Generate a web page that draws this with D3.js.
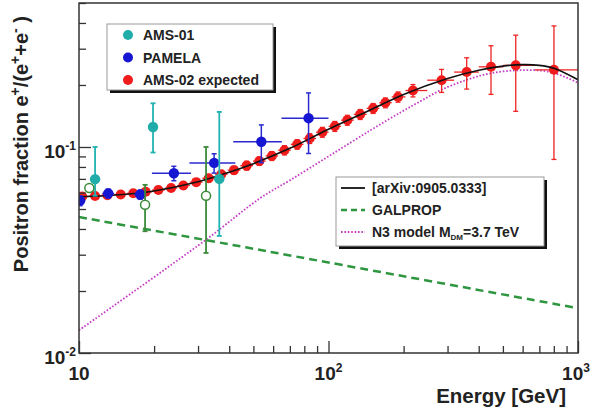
<!DOCTYPE html>
<html>
<head>
<meta charset="utf-8">
<script src="https://cdn.jsdelivr.net/npm/d3@7"></script>
<style>
  body { margin: 0; background: #fff; }
  svg { display: block; font-family: "Liberation Sans", Arial, sans-serif; }
</style>
</head>
<body>
<div class="chart"></div>
<script>
// AMS-02 expected (red)
let amsE = [10.3, 11.6, 13.0, 14.7, 16.5, 18.5, 20.8, 23.4, 26.2, 29.5, 33.1, 37.2, 41.8, 47.0, 52.8, 59.3,
            66.6, 74.9, 84.1, 94.5, 106, 119, 134, 151, 169, 190, 218, 284, 358, 448, 563, 801];
let amsV = [0.0575, 0.0578, 0.0583, 0.0588, 0.0596, 0.0606, 0.0618, 0.0632, 0.0650, 0.0675, 0.0705, 0.0738,
            0.0772, 0.0812, 0.0854, 0.0905, 0.0965, 0.103, 0.110, 0.118, 0.126, 0.135, 0.144, 0.154, 0.164,
            0.175, 0.188, 0.211, 0.231, 0.245, 0.249, 0.237];
let amsErr = [0.002, 0.002, 0.002, 0.002, 0.002, 0.002, 0.002, 0.002, 0.0025, 0.0025, 0.003, 0.003, 0.0035,
              0.004, 0.004, 0.0045, 0.005, 0.0055, 0.006, 0.0065, 0.007, 0.0075, 0.008, 0.0085, 0.009, 0.01,
              0.013, 0.027, 0.04, 0.065, 0.1, 0.15];

// PAMELA (blue)
let pamE = [10.1, 13.1, 17.6, 24.0, 34.8, 53.8, 83.2];
let pamV = [0.0549, 0.0595, 0.0588, 0.0746, 0.0837, 0.106, 0.138];
let pamErr = [0.003, 0.003, 0.003, 0.006, 0.009, 0.022, 0.045];
let pamLo = [9.6, 12.4, 16.6, 19.6, 27.7, 41.5, 64.8];
let pamHi = [10.6, 13.8, 18.6, 28.1, 42.3, 65.0, 100];

// AMS-01 (cyan)
let ams01E = [11.6, 19.8, 36.5];
let ams01V = [0.0698, 0.125, 0.070];
let ams01Hi = [0.100, 0.163, 0.148];
let ams01Lo = [0.058, 0.094, 0.037];

// open green circles
let openE = [11.0, 18.4, 32.3];
let openV = [0.0632, 0.0524, 0.058];
let openHi = [0.0632, 0.0655, 0.100];
let openLo = [0.0632, 0.039, 0.0306];

// curves
let arxivE = [10, 15, 20, 30, 40, 50, 70, 100, 150, 200, 300, 400, 500, 600, 700, 800, 1000];
let arxivV = [0.0573, 0.0588, 0.0612, 0.0678, 0.0755, 0.083, 0.0985, 0.122, 0.153, 0.180, 0.215, 0.236,
              0.247, 0.251, 0.249, 0.241, 0.212];
let galE = [10, 32, 100, 1000];
let galV = [0.0457, 0.0354, 0.0275, 0.0165];
let n3E = [10, 32.1, 53.3, 70.3, 102, 148, 195, 234, 282, 355, 447, 590, 779, 1000];
let n3V = [0.0129, 0.0353, 0.0565, 0.0691, 0.0914, 0.121, 0.1475, 0.167, 0.189, 0.211, 0.228, 0.236,
           0.231, 0.205];

let xMajor = [10, 100, 1000];
let xMinor = [20, 30, 40, 50, 60, 70, 80, 90, 200, 300, 400, 500, 600, 700, 800, 900];
let yMajor = [0.01, 0.1];
let yMinor = [0.02, 0.03, 0.04, 0.05, 0.06, 0.07, 0.08, 0.09, 0.2, 0.3, 0.4, 0.5];

let svgWidth = 592;
let svgHeight = 409;
let pLeft = 79, pRight = 578, pTop = 3, pBottom = 353;

let svg = d3.select(".chart")
    .append("svg")
    .attr("width", svgWidth)
    .attr("height", svgHeight);

let x = d3.scaleLog().domain([10, 1000]).range([pLeft, pRight]);
let y = d3.scaleLog().domain([0.01, 0.5]).range([pBottom, pTop]);

svg.append("clipPath").attr("id", "clip")
  .append("rect")
    .attr("x", pLeft).attr("y", pTop)
    .attr("width", pRight - pLeft).attr("height", pBottom - pTop);

let plot = svg.append("g").attr("clip-path", "url(#clip)");

let line = d3.line()
    .x(d => x(d[0]))
    .y(d => y(d[1]))
    .curve(d3.curveCatmullRom);

// GALPROP
plot.append("path")
    .attr("d", line(d3.zip(galE, galV)))
    .attr("fill", "none")
    .attr("stroke", "#2f9640")
    .attr("stroke-width", 2.5)
    .attr("stroke-dasharray", "8,5");

// N3 model
plot.append("path")
    .attr("d", line(d3.zip(n3E, n3V)))
    .attr("fill", "none")
    .attr("stroke", "#c43cc4")
    .attr("stroke-width", 1.8)
    .attr("stroke-dasharray", "1.6,1.8");

function errorBars(g, color, xs, ys, yLo, yHi, xLo, xHi, width) {
    let grp = g.append("g").attr("stroke", color).attr("stroke-width", width);
    xs.forEach((e, i) => {
        let cx = x(e);
        grp.append("line")
            .attr("x1", cx).attr("x2", cx)
            .attr("y1", y(yLo[i])).attr("y2", y(yHi[i]));
        grp.append("line")
            .attr("x1", cx - 2.5).attr("x2", cx + 2.5)
            .attr("y1", y(yLo[i])).attr("y2", y(yLo[i]));
        grp.append("line")
            .attr("x1", cx - 2.5).attr("x2", cx + 2.5)
            .attr("y1", y(yHi[i])).attr("y2", y(yHi[i]));
        if (xLo) {
            grp.append("line")
                .attr("x1", x(xLo[i])).attr("x2", x(xHi[i]))
                .attr("y1", y(ys[i])).attr("y2", y(ys[i]));
        }
    });
}

// AMS-02 expected: bins between neighbouring points
let amsLo = amsE.map((e, i) => i === 0 ? 10 : Math.sqrt(e * amsE[i - 1]));
let amsHi = amsE.map((e, i) => i === amsE.length - 1 ? 1000 : Math.sqrt(e * amsE[i + 1]));

errorBars(plot, "#ee2222", amsE, amsV,
    amsV.map((v, i) => v - amsErr[i]), amsV.map((v, i) => v + amsErr[i]), amsLo, amsHi, 1.3);

plot.append("g").selectAll("circle")
    .data(d3.zip(amsE, amsV))
    .enter()
    .append("circle")
    .attr("cx", d => x(d[0]))
    .attr("cy", d => y(d[1]))
    .attr("r", 5)
    .attr("fill", "#f01c1c");

// arXiv:0905.0333 curve
plot.append("path")
    .attr("d", line(d3.zip(arxivE, arxivV)))
    .attr("fill", "none")
    .attr("stroke", "#111")
    .attr("stroke-width", 1.6);

// PAMELA
errorBars(plot, "#2a2ad0", pamE, pamV,
    pamV.map((v, i) => v - pamErr[i]), pamV.map((v, i) => v + pamErr[i]), pamLo, pamHi, 1.5);
plot.append("g").selectAll("circle")
    .data(d3.zip(pamE, pamV))
    .enter()
    .append("circle")
    .attr("cx", d => x(d[0]))
    .attr("cy", d => y(d[1]))
    .attr("r", 5.2)
    .attr("fill", "#1616d2");

// AMS-01
errorBars(plot, "#22b2b2", ams01E, ams01V, ams01Lo, ams01Hi, null, null, 1.8);
plot.append("g").selectAll("circle")
    .data(d3.zip(ams01E, ams01V))
    .enter()
    .append("circle")
    .attr("cx", d => x(d[0]))
    .attr("cy", d => y(d[1]))
    .attr("r", 5.2)
    .attr("fill", "#20adaa");

// open green circles
errorBars(plot, "#3a8a3a", openE, openV, openLo, openHi, null, null, 1.8);
plot.append("g").selectAll("circle")
    .data(d3.zip(openE, openV))
    .enter()
    .append("circle")
    .attr("cx", d => x(d[0]))
    .attr("cy", d => y(d[1]))
    .attr("r", 4.5)
    .attr("fill", "#fff")
    .attr("stroke", "#3a8a3a")
    .attr("stroke-width", 1.5);

// frame
svg.append("rect")
    .attr("x", pLeft).attr("y", pTop)
    .attr("width", pRight - pLeft).attr("height", pBottom - pTop)
    .attr("fill", "none")
    .attr("stroke", "#333")
    .attr("stroke-width", 1.5);

// axes with inward ticks
function drawAxis(axis, transform) {
    svg.append("g")
        .attr("transform", transform)
        .call(axis)
        .call(g => g.select(".domain").remove())
        .call(g => g.selectAll("line").attr("stroke", "#333").attr("stroke-width", 1.3));
}
drawAxis(d3.axisBottom(x).tickValues(xMajor).tickSize(-12).tickFormat(""), `translate(0,${pBottom})`);
drawAxis(d3.axisBottom(x).tickValues(xMinor).tickSize(-7).tickFormat(""), `translate(0,${pBottom})`);
drawAxis(d3.axisLeft(y).tickValues(yMajor).tickSize(-12).tickFormat(""), `translate(${pLeft},0)`);
drawAxis(d3.axisLeft(y).tickValues(yMinor).tickSize(-7).tickFormat(""), `translate(${pLeft},0)`);

function powerLabel(px, py, exp, anchor) {
    let t = svg.append("text")
        .attr("x", px).attr("y", py)
        .attr("text-anchor", anchor)
        .attr("font-size", 19)
        .attr("font-weight", "bold")
        .attr("fill", "#222");
    t.append("tspan").text("10");
    if (exp !== "") {
        t.append("tspan").attr("font-size", 12).attr("dy", -8).text(exp);
    }
}
powerLabel(x(10), 380, "", "middle");
powerLabel(x(100), 380, "2", "middle");
powerLabel(x(1000) - 2, 380, "3", "middle");
powerLabel(pLeft - 3, y(0.1) + 11, "-1", "end");
powerLabel(pLeft - 3, y(0.01) + 11, "-2", "end");

// axis titles
svg.append("text")
    .attr("x", 566).attr("y", 403)
    .attr("text-anchor", "end")
    .attr("font-size", 20.5)
    .attr("font-weight", "bold")
    .attr("fill", "#222")
    .text("Energy [GeV]");

let yt = svg.append("text")
    .attr("transform", "rotate(-90)")
    .attr("x", -16).attr("y", 28)
    .attr("text-anchor", "end")
    .attr("font-size", 20)
    .attr("font-weight", "bold")
    .attr("fill", "#222");
yt.append("tspan").text("Positron fraction e");
yt.append("tspan").attr("font-size", 14).attr("dy", -8).text("+");
yt.append("tspan").attr("dy", 8).text("/(e");
yt.append("tspan").attr("font-size", 14).attr("dy", -8).text("+");
yt.append("tspan").attr("dy", 8).text("+e");
yt.append("tspan").attr("font-size", 14).attr("dy", -8).text("-");
yt.append("tspan").attr("dy", 8).text(" )");

// legends
function legendBox(bx, by, bw, bh) {
    svg.append("rect")
        .attr("x", bx + 3).attr("y", by + 3)
        .attr("width", bw).attr("height", bh)
        .attr("fill", "#111");
    svg.append("rect")
        .attr("x", bx).attr("y", by)
        .attr("width", bw).attr("height", bh)
        .attr("fill", "#fff")
        .attr("stroke", "#999")
        .attr("stroke-width", 1);
}

legendBox(107, 24, 166, 66);
let leg1 = [["AMS-01", "#20adaa"], ["PAMELA", "#1616d2"], ["AMS-02 expected", "#f01c1c"]];
leg1.forEach((d, i) => {
    let ly = 35 + i * 22.5;
    svg.append("circle").attr("cx", 128).attr("cy", ly).attr("r", 5).attr("fill", d[1]);
    svg.append("text")
        .attr("x", 143).attr("y", ly + 5)
        .attr("font-size", 14).attr("font-weight", "bold").attr("fill", "#222")
        .text(d[0]);
});

legendBox(336, 177, 208, 69);
let leg2 = [
    ["#111", "", 1.8],
    ["#2f9640", "6,4", 2.5],
    ["#c43cc4", "1.6,1.8", 1.8]
];
leg2.forEach((d, i) => {
    let ly = 188 + i * 22;
    svg.append("line")
        .attr("x1", 341).attr("x2", 365)
        .attr("y1", ly).attr("y2", ly)
        .attr("stroke", d[0])
        .attr("stroke-width", d[2])
        .attr("stroke-dasharray", d[1] || null);
});
function legText(ly) {
    return svg.append("text")
        .attr("x", 372).attr("y", ly + 5)
        .attr("font-size", 14).attr("font-weight", "bold").attr("fill", "#222");
}
legText(188).text("[arXiv:0905.0333]");
legText(210).text("GALPROP");
let n3 = legText(232);
n3.append("tspan").text("N3 model M");
n3.append("tspan").attr("font-size", 8).attr("dy", 3).text("DM");
n3.append("tspan").attr("dy", -3).text("=3.7 TeV");
</script>
</body>
</html>
